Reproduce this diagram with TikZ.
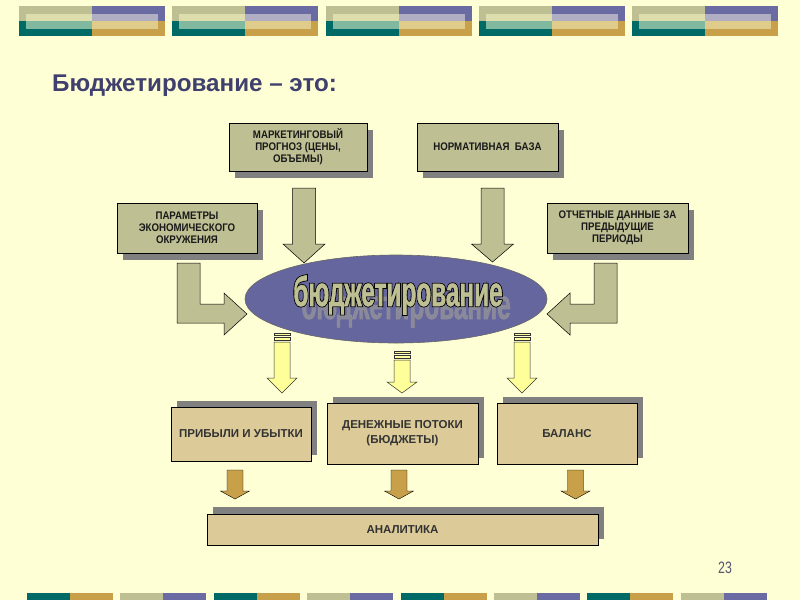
\documentclass[tikz,border=0pt]{standalone}
\usepackage{fontspec}
\setmainfont{Liberation Sans}
\newfontfamily\narrowf[FakeStretch=0.88]{Liberation Sans}
\newfontfamily\bigf[FakeStretch=0.58,FakeBold=1]{Liberation Sans}
\newfontfamily\bigfo[FakeStretch=0.58,FakeBold=5]{Liberation Sans}
\newfontfamily\numf[FakeStretch=0.75]{Liberation Sans}
\usetikzlibrary{shapes.geometric,shadows}
\definecolor{bgc}{HTML}{FFFFD6}
\definecolor{khaki}{HTML}{BFBF94}
\definecolor{purp}{HTML}{6B6BA3}
\definecolor{teal}{HTML}{006B66}
\definecolor{gold}{HTML}{C8A04A}
\definecolor{lkhaki}{HTML}{DDDDAE}
\definecolor{lpurp}{HTML}{B0AEC2}
\definecolor{lteal}{HTML}{80B8A0}
\definecolor{lgold}{HTML}{E0CC8A}
\definecolor{tan}{HTML}{DCCB98}
\definecolor{ellc}{HTML}{66669E}
\definecolor{titlec}{HTML}{40406E}
\definecolor{yel}{HTML}{FFFF99}
\definecolor{shad}{HTML}{808080}
\definecolor{numc}{HTML}{56566E}
\newcommand\dnarr[7]{\draw[#1] ({#2-#4},#3) -- ({#2+#4},#3) -- ({#2+#4},#5) -- ({#2+#6},#5) -- (#2,#7) -- ({#2-#6},#5) -- ({#2-#4},#5) -- cycle;}
\newcommand\bigtxt{\bigf\bfseries\fontsize{42}{46}\selectfont бюджетирование}
\newcommand\bigtxto{\bigfo\bfseries\fontsize{42}{46}\selectfont бюджетирование}
\tikzset{
  topbox/.style={draw=black, line width=0.6pt, fill=khaki, align=center,
    font=\narrowf\bfseries\fontsize{11}{12}\selectfont, text=black!90, inner sep=2pt,
    drop shadow={shadow xshift=6pt, shadow yshift=-7pt, fill=shad, opacity=1}},
  botbox/.style={draw=black, line width=0.6pt, fill=tan, align=center,
    font=\bfseries\fontsize{11.5}{15}\selectfont, text=black!80, inner sep=2pt,
    drop shadow={shadow xshift=6pt, shadow yshift=6pt, fill=shad, opacity=1}},
  bigarrow/.style={draw=black, line width=0.5pt, fill=khaki},
  yarrow/.style={draw=black!80, line width=0.5pt, fill=yel},
  garrow/.style={fill=gold}
}
\begin{document}
\begin{tikzpicture}[x=1pt,y=-1pt]
\useasboundingbox (0,0) rectangle (800,600);
\fill[bgc] (0,0) rectangle (800,600);
% top decorative bars
\foreach \i in {0,...,4}{
  \pgfmathsetmacro\xo{19+153.25*\i}
  \fill[khaki] (\xo,6) rectangle ({\xo+73},21);
  \fill[purp] ({\xo+73},6) rectangle ({\xo+146},21);
  \fill[teal] (\xo,21) rectangle ({\xo+73},36);
  \fill[gold] ({\xo+73},21) rectangle ({\xo+146},36);
  \fill[lkhaki] ({\xo+7},14) rectangle ({\xo+73},21);
  \fill[lpurp] ({\xo+73},14) rectangle ({\xo+139},21);
  \fill[lteal] ({\xo+7},21) rectangle ({\xo+73},29);
  \fill[lgold] ({\xo+73},21) rectangle ({\xo+139},29);
}
% bottom decorative bars
\foreach \i in {0,...,7}{
  \pgfmathsetmacro\xo{27+93.4*\i}
  \pgfmathtruncatemacro\odd{mod(\i,2)}
  \ifnum\odd=0
    \fill[teal] (\xo,593) rectangle ({\xo+43},600);
    \fill[gold] ({\xo+43},593) rectangle ({\xo+86},600);
  \else
    \fill[khaki] (\xo,593) rectangle ({\xo+43},600);
    \fill[purp] ({\xo+43},593) rectangle ({\xo+86},600);
  \fi
}
% title
\node[anchor=base west, inner sep=0pt, text=titlec, font=\bfseries\fontsize{24.2}{30}\selectfont] (title) at (52,91) {Бюджетирование – это:};
% page number
\node[anchor=base, inner sep=0pt, text=numc, font=\numf\fontsize{16.5}{18}\selectfont] (num) at (725,573) {23};

% top boxes
\node[topbox, minimum width=138pt, minimum height=48pt] (b1) at (298,147) {МАРКЕТИНГОВЫЙ\\ПРОГНОЗ (ЦЕНЫ,\\ОБЪЕМЫ)};
\node[topbox, minimum width=141pt, minimum height=48pt] (b2) at (487.5,147) {НОРМАТИВНАЯ\ \ БАЗА};
\node[topbox, minimum width=140pt, minimum height=50pt] (b3) at (187,228) {ПАРАМЕТРЫ\\ЭКОНОМИЧЕСКОГО\\ОКРУЖЕНИЯ};
\node[topbox, minimum width=141pt, minimum height=50pt] (b4) at (617.5,228) {ОТЧЕТНЫЕ ДАННЫЕ ЗА\\ПРЕДЫДУЩИЕ\\ПЕРИОДЫ};

% big arrows down
\dnarr{bigarrow}{304}{188}{11.5}{244}{21}{263}
\dnarr{bigarrow}{492.5}{188}{11.5}{244}{21}{262}
% L arrows
\draw[bigarrow] (177,263) -- (200,263) -- (200,304) -- (224,304) -- (224,293) -- (247,314) -- (224,335) -- (224,323) -- (177,323) -- cycle;
\draw[bigarrow] (617,263) -- (594,263) -- (594,304) -- (570,304) -- (570,293) -- (547,314) -- (570,335) -- (570,323) -- (617,323) -- cycle;

% ellipse
\node[ellipse, draw=black!60, line width=0.6pt, fill=ellc, minimum width=302pt, minimum height=88pt] (ell) at (396,299) {};
\node[text=black!40, opacity=0.7] (wsh) at (406,308) {\bigtxt};
\node[text=black] (wordo) at (398,295) {\bigtxto};
\node[text=khaki] (word) at (398,295) {\bigtxt};

% yellow striped arrows
\foreach \cx/\top/\hb in {282/333/378, 402/351/382, 522/333/378}{
  \draw[yarrow] ({\cx-8},\top) rectangle ({\cx+8},{\top+2});
  \draw[yarrow] ({\cx-8},{\top+4}) rectangle ({\cx+8},{\top+7});
  \dnarr{yarrow}{\cx}{\top+9}{8}{\hb}{15}{393}
}

% bottom boxes
\node[botbox, minimum width=140pt, minimum height=54pt] (p) at (241,434) {ПРИБЫЛИ И УБЫТКИ};
\node[botbox, minimum width=151pt, minimum height=61pt] (d) at (402.5,433.5) {ДЕНЕЖНЫЕ ПОТОКИ\\(БЮДЖЕТЫ)};
\node[botbox, minimum width=140pt, minimum height=61pt] (bal) at (567,433.5) {БАЛАНС};

% gold arrows
\dnarr{garrow}{235}{470}{8}{491}{14.5}{499}
\dnarr{garrow}{399}{470}{8}{491}{14.5}{499}
\dnarr{garrow}{575.5}{470}{8}{491}{14.5}{499}

% analytics
\node[botbox, minimum width=391pt, minimum height=31pt, drop shadow={shadow xshift=6pt, shadow yshift=7pt, fill=shad, opacity=1}] (an) at (402.5,529.5) {АНАЛИТИКА};
\end{tikzpicture}
\end{document}
